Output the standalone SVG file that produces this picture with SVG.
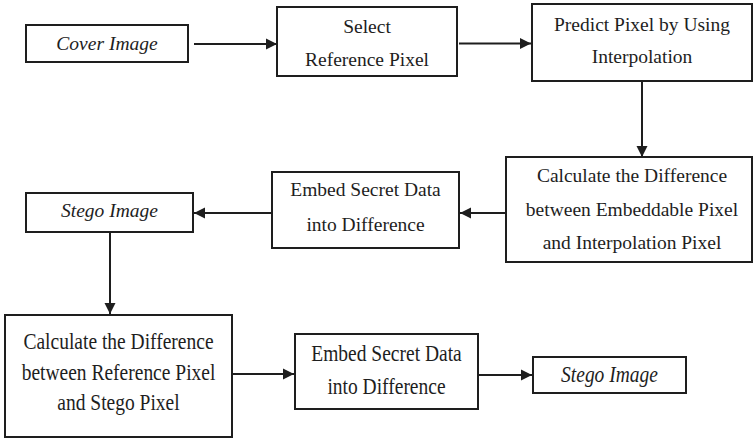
<svg xmlns="http://www.w3.org/2000/svg" width="753" height="438" viewBox="0 0 753 438">
  <defs>
    <style>
      .box { fill: #ffffff; stroke: #1e1e1e; stroke-width: 2; }
      .t { font-family: 'Liberation Serif', 'Tinos', 'Times New Roman', 'DejaVu Serif', serif; font-size: 19.5px; fill: #1e1e1e; text-anchor: middle; }
      .i { font-style: italic; }
      .c { stroke: #1e1e1e; stroke-width: 2; fill: none; marker-end: url(#ah); }
    </style>
    <marker id="ah" markerUnits="userSpaceOnUse" markerWidth="12" markerHeight="12" refX="11" refY="6" orient="auto">
      <path d="M0,0.5 L11,6 L0,11.5 z" fill="#1e1e1e"/>
    </marker>
  </defs>
  <rect width="753" height="438" fill="#ffffff"/>

  <g id="connectors">
    <line class="c" x1="194" y1="44" x2="277" y2="44"/>
    <line class="c" x1="459" y1="43.5" x2="531" y2="43.5"/>
    <line class="c" x1="642" y1="81" x2="642" y2="157"/>
    <line class="c" x1="506" y1="213" x2="460" y2="213"/>
    <line class="c" x1="272" y1="213" x2="194" y2="213"/>
    <line class="c" x1="110" y1="232" x2="110" y2="314"/>
    <line class="c" x1="233" y1="374" x2="294" y2="374"/>
    <line class="c" x1="479" y1="375" x2="532" y2="375"/>
  </g>

  <g id="cover-image">
    <rect class="box" x="26" y="25" width="162" height="37"/>
    <text class="t i" x="107" y="50">Cover Image</text>
  </g>

  <g id="select-reference">
    <rect class="box" x="277" y="7" width="180" height="69"/>
    <text class="t" x="367" y="33">Select</text>
    <text class="t" x="367" y="66">Reference Pixel</text>
  </g>

  <g id="predict-pixel">
    <rect class="box" x="532" y="4" width="220" height="77"/>
    <text class="t" x="642" y="31">Predict Pixel by Using</text>
    <text class="t" x="642" y="63">Interpolation</text>
  </g>

  <g id="calc-diff-embeddable">
    <rect class="box" x="506" y="157" width="246" height="105"/>
    <text class="t" x="632" y="182">Calculate the Difference</text>
    <text class="t" x="632" y="216">between Embeddable Pixel</text>
    <text class="t" x="632" y="249">and Interpolation Pixel</text>
  </g>

  <g id="embed-secret-1">
    <rect class="box" x="272" y="172" width="187" height="76"/>
    <text class="t" x="365.5" y="196">Embed Secret Data</text>
    <text class="t" x="365.5" y="231">into Difference</text>
  </g>

  <g id="stego-image-1">
    <rect class="box" x="26" y="193" width="167" height="39"/>
    <text class="t i" x="109.5" y="217">Stego Image</text>
  </g>

  <g id="calc-diff-reference">
    <rect class="box" x="5" y="315" width="227" height="122"/>
    <text class="t" transform="translate(118.5,349) scale(1,1.15)">Calculate the Difference</text>
    <text class="t" transform="translate(118.5,380) scale(1,1.15)">between Reference Pixel</text>
    <text class="t" transform="translate(118.5,410) scale(1,1.15)">and Stego Pixel</text>
  </g>

  <g id="embed-secret-2">
    <rect class="box" x="295" y="334" width="183" height="75"/>
    <text class="t" transform="translate(386.5,361) scale(1,1.15)">Embed Secret Data</text>
    <text class="t" transform="translate(386.5,394) scale(1,1.15)">into Difference</text>
  </g>

  <g id="stego-image-2">
    <rect class="box" x="533" y="357" width="153" height="36"/>
    <text class="t i" transform="translate(609.5,382) scale(1,1.15)">Stego Image</text>
  </g>
</svg>
